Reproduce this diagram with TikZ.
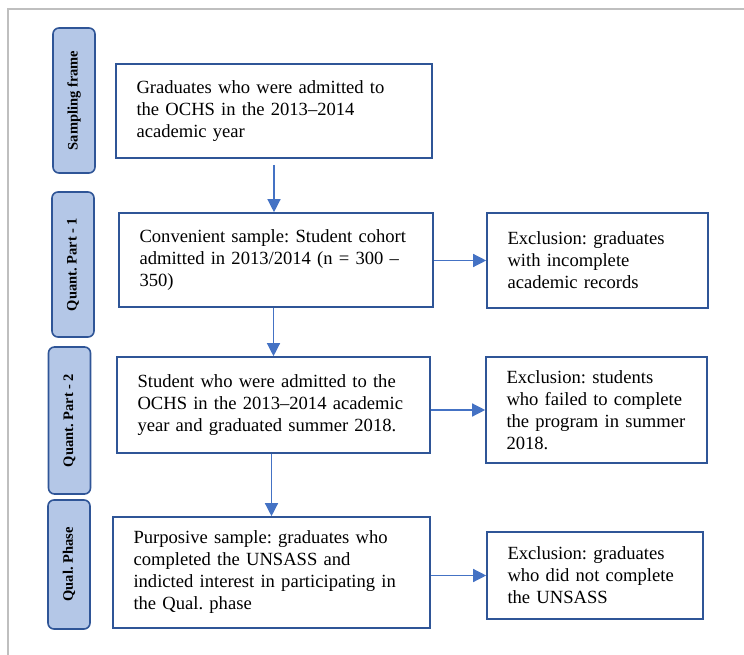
\documentclass[tikz,border=0pt]{standalone}
\usepackage{fontspec}
\setmainfont{Liberation Serif}
\usetikzlibrary{arrows.meta}
\definecolor{boxblue}{HTML}{2F5597}
\definecolor{tabfill}{HTML}{B4C7E7}
\definecolor{arrblue}{HTML}{4472C4}
\definecolor{framegray}{HTML}{BFBFBF}
\frenchspacing
\hyphenpenalty=10000

\newcommand{\phasetab}[4]
{\node[tab,minimum width=#3] (#1) at (#2) {#4};
}

\begin{document}
\begin{tikzpicture}[x=1pt,y=-1pt,
	tab/.style={draw=boxblue,fill=tabfill,line width=1.6pt,rounded corners=6pt,rotate=90,
		minimum height=42pt,inner sep=0pt,font=\fontsize{14.5}{16}\selectfont\bfseries},
	stage/.style={draw=boxblue,line width=1.6pt,align=left,inner xsep=20.5pt,inner ysep=0pt,
		font=\fontsize{18.6}{22}\selectfont},
	flow/.style={arrblue,line width=1.3pt,-{Triangle[length=13pt,width=13pt]}}]

\useasboundingbox (0,0) rectangle (744,655);
\draw[framegray,line width=1.2pt] (8,655) -- (8,9) -- (744,9);

% phases on the left
\phasetab{sframe}{74,100.5}{145pt}{Sampling frame}
\phasetab{qpart1}{73,264.5}{145pt}{Quant. Part - 1}
\phasetab{qpart2}{69.5,420.5}{147pt}{Quant. Part - 2}
\phasetab{qual}{69,564.5}{129pt}{Qual. Phase}

% main column
\node[stage,text width=275pt,minimum height=94pt] (frame) at (274,111)
	{Graduates who were admitted to\\the OCHS in the 2013--2014\\academic year};
\node[stage,text width=273pt,minimum height=94pt] (conv) at (276,260)
	{Convenient sample: Student cohort\\admitted in 2013/2014 (n = 300 --\\350)};
\node[stage,text width=272pt,minimum height=96pt] (grad) at (273.5,405)
	{Student who were admitted to the\\OCHS in the 2013--2014 academic\\year and graduated summer 2018.};
\node[stage,text width=276pt,minimum height=111pt] (purp) at (271.5,572.5)
	{Purposive sample: graduates who\\completed the UNSASS and\\indicted interest in participating in\\the Qual. phase};

% exclusions
\node[stage,text width=180pt,minimum height=95pt] (excl1) at (597.5,260.5)
	{Exclusion: graduates\\with incomplete\\academic records};
\node[stage,text width=180pt,minimum height=106pt] (excl2) at (596.5,410)
	{Exclusion: students\\who failed to complete\\the program in summer\\2018.};
\node[stage,text width=175pt,minimum height=87pt] (excl3) at (595,575.5)
	{Exclusion: graduates\\who did not complete\\the UNSASS};

\draw[flow,shorten <=6pt] (frame.south) -- (frame.south |- conv.north);
\draw[flow] (grad.north |- conv.south) -- (grad.north);
\draw[flow] (purp.north |- grad.south) -- (purp.north);

\draw[flow] (excl1.west -| conv.east) -- (excl1.west);
\draw[flow] (excl2.west -| grad.east) -- (excl2.west);
\draw[flow] (excl3.west -| purp.east) -- (excl3.west);
\end{tikzpicture}
\end{document}
